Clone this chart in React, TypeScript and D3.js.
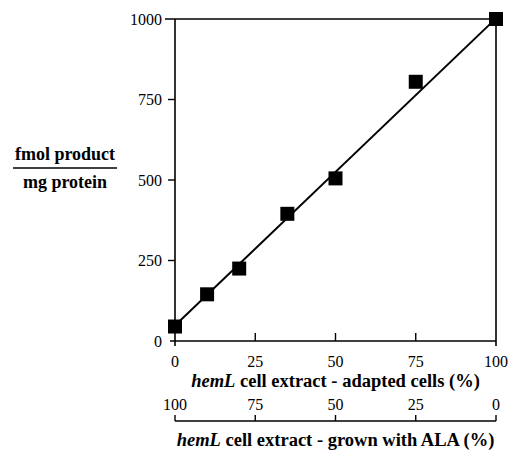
import React from 'react';
import {scaleLinear, line} from 'd3';

const width = 508;
const height = 453;

// adapted cells (%) vs fmol product / mg protein
const adaptedPct = [0, 10, 20, 35, 50, 75, 100];
const product = [45, 145, 225, 395, 505, 805, 1000];
// fitted line at both ends
const fitX = [0, 100];
const fitY = [48, 1002];

const yTicks = [0, 250, 500, 750, 1000];
const xTicks = [0, 25, 50, 75, 100];
const alaTicks = [100, 75, 50, 25, 0];

const font = "'Times New Roman', Times, 'Liberation Serif', 'DejaVu Serif', serif";

export default function App() {
  const x = scaleLinear().domain([0, 100]).range([175, 496]);
  const y = scaleLinear().domain([0, 1000]).range([341, 19]);
  // second axis runs the other way
  const xAla = scaleLinear().domain([100, 0]).range([175, 496]);
  const axis2Y = 421;

  const fitLine = line<number>()
    .x((d, i) => x(fitX[i]))
    .y(d => y(d));

  const sq = 14;

  return (
    <svg width={width} height={height} style={{position: 'absolute', left: 0, top: 0}}
         fontFamily={font}>
      <style>{`text { font-family: ${font}; }`}</style>
      <rect width={width} height={height} fill="#fff"/>

      {/* frame */}
      <line x1={x(0)} x2={x(0)} y1={y(1000)} y2={y(0) + 5} stroke="#000" strokeWidth={1.6}/>
      <line x1={x(0) - 5} x2={x(100)} y1={y(0)} y2={y(0)} stroke="#000" strokeWidth={1.6}/>
      <line x1={x(0) - 10} x2={x(100)} y1={y(1000)} y2={y(1000)} stroke="#000" strokeWidth={1.6}/>
      <line x1={x(100)} x2={x(100)} y1={y(1000) - 3} y2={y(0) + 5} stroke="#000" strokeWidth={1.6}/>

      {/* y ticks */}
      {yTicks.map(t => (
        <g key={t}>
          {t > 0 && t < 1000 &&
            <line x1={x(0) - 7} x2={x(0)} y1={y(t)} y2={y(t)} stroke="#000" strokeWidth={1.4}/>}
          <text x={x(0) - 13} y={y(t)} dy="0.35em" textAnchor="end" fontSize={16}>{t}</text>
        </g>
      ))}

      {/* x ticks */}
      {xTicks.map(t => (
        <g key={t}>
          {t > 0 && t < 100 &&
            <line x1={x(t)} x2={x(t)} y1={y(0)} y2={y(0) - 8} stroke="#000" strokeWidth={1.4}/>}
          <text x={x(t)} y={367} textAnchor="middle" fontSize={16}>{t}</text>
        </g>
      ))}

      <text x={(x(0) + x(100)) / 2} y={387} textAnchor="middle" fontSize={18.5} fontWeight="bold">
        <tspan fontStyle="italic">hemL</tspan> cell extract - adapted cells (%)
      </text>

      {/* second x axis */}
      <line x1={xAla(100)} x2={xAla(0)} y1={axis2Y} y2={axis2Y} stroke="#000" strokeWidth={1.6}/>
      {alaTicks.map(t => (
        <g key={t}>
          <line x1={xAla(t)} x2={xAla(t)} y1={axis2Y} y2={axis2Y - 6} stroke="#000" strokeWidth={1.4}/>
          <text x={xAla(t)} y={410} textAnchor="middle" fontSize={16}>{t}</text>
        </g>
      ))}
      <text x={(x(0) + x(100)) / 2} y={446} textAnchor="middle" fontSize={18.5} fontWeight="bold">
        <tspan fontStyle="italic">hemL</tspan> cell extract - grown with ALA (%)
      </text>

      {/* y label as a fraction */}
      <text x={65} y={160} textAnchor="middle" fontSize={18} fontWeight="bold">fmol product</text>
      <line x1={13} x2={117} y1={168} y2={168} stroke="#000" strokeWidth={1.6}/>
      <text x={65} y={188} textAnchor="middle" fontSize={18} fontWeight="bold">mg protein</text>

      {/* fit line */}
      <path d={fitLine(fitY) || ''} fill="none" stroke="#000" strokeWidth={2}/>

      {/* points */}
      {adaptedPct.map((v, i) => (
        <rect key={i} x={x(v) - sq / 2} y={y(product[i]) - sq / 2} width={sq} height={sq} fill="#000"/>
      ))}
    </svg>
  );
}
